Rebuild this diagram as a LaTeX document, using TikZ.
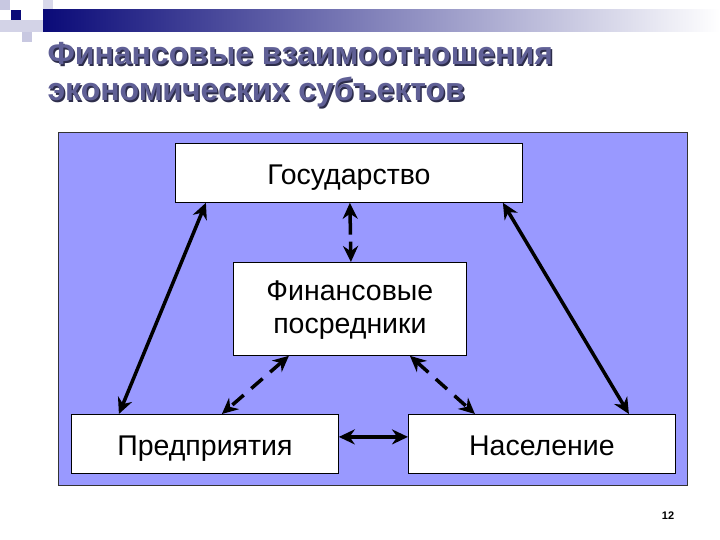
\documentclass[tikz,border=0pt]{standalone}
\usepackage{fontspec}
\setmainfont{Liberation Sans}
\usetikzlibrary{arrows.meta}
\definecolor{panelblue}{RGB}{153,153,255}
\definecolor{titleblue}{RGB}{96,96,150}
\definecolor{titleshadow}{RGB}{45,45,75}
\definecolor{navy}{RGB}{10,10,120}
\definecolor{lav}{RGB}{200,200,225}
\tikzset{
  box/.style={draw=black, line width=0.8pt, fill=white, inner sep=0pt, font=\fontsize{28.5}{33}\selectfont, align=center},
  onebox/.style={box, text height=24pt, text depth=0pt},
  link/.style={line width=3.5pt, {Stealth[length=16pt,width=15pt]}-{Stealth[length=16pt,width=15pt]}},
  dlink/.style={link, dash pattern=on 15pt off 10pt},
}
\begin{document}
\begin{tikzpicture}[x=1pt,y=-1pt]
\useasboundingbox (0,0) rectangle (720,540);
\fill[white] (0,0) rectangle (720,540);
% decoration
\fill[lav] (0,0) rectangle (10,10);
\fill[lav] (22,32) rectangle (32,42);
\fill[lav!70] (43,0) rectangle (53,20);
\shade[left color=navy, right color=white] (43,10) rectangle (720,32);
\fill[lav!80] (0,20) rectangle (43,32);
\fill[navy] (11,10) rectangle (21,20);
% title
\node[anchor=base west, align=left, font=\fontsize{32}{36}\selectfont\bfseries, text=titleshadow] at (45.5,102.5)
  {Финансовые взаимоотношения\\экономических субъектов};
\node[anchor=base west, align=left, font=\fontsize{32}{36}\selectfont\bfseries, text=titleblue] (title) at (44,101)
  {Финансовые взаимоотношения\\экономических субъектов};
% panel
\node[draw=black!80, line width=0.6pt, fill=panelblue, minimum width=629pt, minimum height=353pt, anchor=north west, inner sep=0pt] (panel) at (58,132) {};
% boxes
\node[onebox, minimum width=347pt, minimum height=59pt, anchor=north west] (gos) at (175,143) {Государство};
\node[box, minimum width=233pt, minimum height=93pt, anchor=north west, text depth=4pt] (fin) at (233,262) {Финансовые\\посредники};
\node[onebox, minimum width=267pt, minimum height=59pt, anchor=north west] (pred) at (71,414) {Предприятия};
\node[onebox, minimum width=267pt, minimum height=59pt, anchor=north west] (nas) at (408,414) {Население};
% connectors
\coordinate (g1) at ([xshift=-143pt]gos.south);
\coordinate (g2) at ([xshift=154pt]gos.south);
\coordinate (p1) at ([xshift=-86pt]pred.north);
\coordinate (n1) at ([xshift=87pt]nas.north);
\draw[link] (g1) -- (p1);
\draw[link] (g2) -- (n1);
\draw[link, dash pattern=on 22pt off 7pt] ([xshift=1pt]gos.south) -- ([xshift=1pt]fin.north);
\coordinate (f1) at ([xshift=-61pt]fin.south);
\coordinate (f2) at ([xshift=60pt]fin.south);
\coordinate (p2) at ([xshift=17pt]pred.north);
\coordinate (n2) at ([xshift=-67pt]nas.north);
\draw[dlink] (f1) -- (p2);
\draw[dlink] (f2) -- (n2);
\draw[link] ([yshift=7pt]pred.east) -- ([yshift=7pt]nas.west);
% page number
\node[font=\fontsize{11}{13}\selectfont\bfseries, anchor=base] (pg) at (668,519) {12};
\end{tikzpicture}
\end{document}
